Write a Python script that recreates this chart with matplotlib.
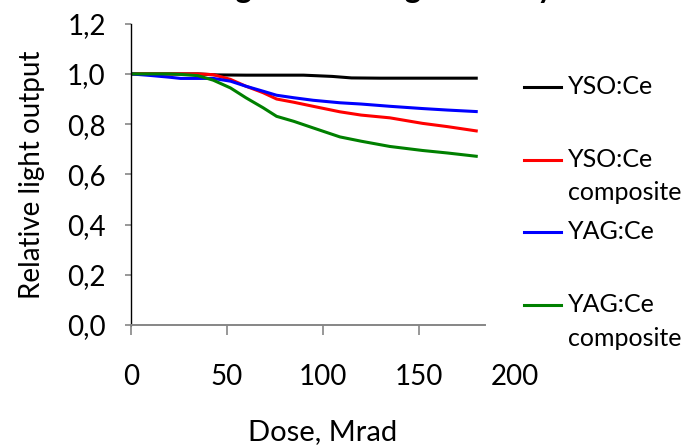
import matplotlib
matplotlib.use("Agg")
import matplotlib.pyplot as plt
from matplotlib.ticker import FuncFormatter

plt.rcParams['font.family'] = ['Lato', 'DejaVu Sans']

# dose in Mrad and relative light output for each sample
dose_yso = [0, 20, 35, 45, 60, 90, 105, 115, 130, 180]
yso = [1.0, 1.0, 1.0, 0.996, 0.995, 0.995, 0.99, 0.984, 0.983, 0.983]

dose_yso_comp = [0, 20, 35, 43, 52, 60, 69, 76, 85, 95, 109, 120, 135, 152, 165, 180]
yso_comp = [1.0, 1.0, 1.0, 0.997, 0.978, 0.951, 0.925, 0.90, 0.887, 0.871, 0.849, 0.836,
            0.825, 0.803, 0.79, 0.773]

dose_yag = [0, 10, 20, 26, 43, 52, 60, 69, 76, 85, 95, 109, 120, 135, 152, 165, 180]
yag = [1.0, 0.994, 0.987, 0.982, 0.982, 0.971, 0.951, 0.931, 0.915, 0.905, 0.895, 0.885,
       0.88, 0.871, 0.862, 0.856, 0.85]

dose_yag_comp = [0, 20, 26, 35, 43, 52, 60, 69, 76, 85, 95, 109, 120, 135, 152, 165, 180]
yag_comp = [1.0, 1.0, 0.998, 0.993, 0.975, 0.944, 0.905, 0.865, 0.831, 0.811, 0.785, 0.749,
            0.732, 0.711, 0.695, 0.685, 0.672]

labels = ['YSO:Ce\n ', 'YSO:Ce\ncomposite', 'YAG:Ce\n ', 'YAG:Ce\ncomposite']
colors = ['#000000', '#FF0000', '#0000FF', '#008000']

x_ticks = [0, 50, 100, 150, 200]
y_ticks = [0.0, 0.2, 0.4, 0.6, 0.8, 1.0, 1.2]

FS = 20
LEG_FS = 18

fig = plt.figure(figsize=(6.88, 4.47), dpi=100)
ax = fig.add_axes([0.19, 0.273, 0.558, 0.674])

series = [(dose_yso, yso), (dose_yso_comp, yso_comp), (dose_yag, yag), (dose_yag_comp, yag_comp)]
for (xs, ys), lab, c in zip(series, labels, colors):
    ax.plot(xs, ys, color=c, lw=2.2, label=lab, solid_joinstyle='round')

ax.set_xlim(0, 200)
ax.set_ylim(0, 1.2)
ax.set_xticks(x_ticks)
ax.set_yticks(y_ticks)
ax.yaxis.set_major_formatter(FuncFormatter(lambda v, p: f"{v:.1f}".replace('.', ',')))

for s in ['top', 'right']:
    ax.spines[s].set_visible(False)
ax.spines['bottom'].set_bounds(0, 184.5)
ax.spines['bottom'].set_color('#868686')
ax.spines['bottom'].set_linewidth(1.4)
ax.spines['left'].set_linewidth(1.0)

ax.tick_params(axis='x', length=7, width=1.2, color='#868686', pad=21, labelsize=FS)
ax.tick_params(axis='y', length=4, width=1.2, color='#868686', pad=14, labelsize=FS)
ax.xaxis.get_major_ticks()[-1].tick1line.set_visible(False)

ax.set_xlabel('Dose, Mrad', fontsize=21, labelpad=21)
ax.set_ylabel('Relative light output', fontsize=FS, labelpad=16)

leg = ax.legend(loc='upper left', bbox_to_anchor=(0.762, 0.832), bbox_transform=fig.transFigure,
                frameon=False, fontsize=LEG_FS, handlelength=1.45, handletextpad=0.3,
                labelspacing=0.65, borderpad=0, borderaxespad=0)
line_pitch = 24.5  # points between the two lines of a label
for t in leg.get_texts():
    t.set_linespacing(1.55)
# put each legend line level with the first line of its label
for ln in leg.get_lines():
    ln.set_ydata([v + line_pitch / 2 for v in ln.get_ydata()])

# chart title sits above the top edge, only descenders remain visible
fig.text(0.545, 1.005, 'Degradation in gamma ray', fontsize=22, fontweight='bold',
         ha='center', va='baseline')

fig.savefig('out.png', dpi=100)
